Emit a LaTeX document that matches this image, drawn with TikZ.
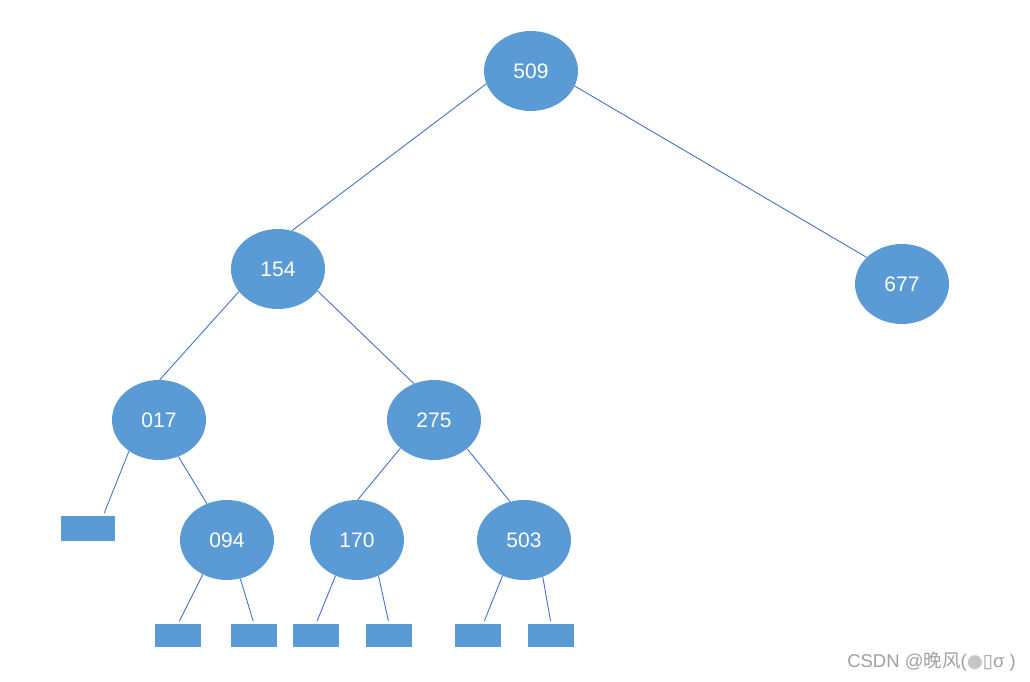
\documentclass[tikz,border=0pt]{standalone}
\usepackage{fontspec}
\setmainfont{Liberation Sans}
\newfontfamily\cjkfont{Noto Sans CJK SC}
\newfontfamily\symfont{DejaVu Sans}
\usetikzlibrary{shapes.geometric}
\definecolor{keyfill}{HTML}{5B9BD5}
\definecolor{edgecolor}{HTML}{4472C4}
\definecolor{markcolor}{HTML}{A0A0A0}

\begin{document}
\begin{tikzpicture}[x=1pt, y=-1pt,
    keynode/.style={ellipse, fill=keyfill, minimum width=94pt, minimum height=80pt, inner sep=0pt, text=white, font=\fontsize{21}{25}\selectfont},
    nullnode/.style={rectangle, fill=keyfill, inner sep=0pt},
    link/.style={draw=edgecolor, line width=0.9pt},
]
\useasboundingbox (0,0) rectangle (1030,682);

% keys
\node[keynode] (n509) at (531, 71) {509};
\node[keynode] (n154) at (278, 269) {154};
\node[keynode] (n677) at (902, 284) {677};
\node[keynode] (n017) at (159, 420) {017};
\node[keynode] (n275) at (434, 420) {275};
\node[keynode] (n094) at (227, 540) {094};
\node[keynode] (n170) at (357, 540) {170};
\node[keynode] (n503) at (524, 540) {503};

% empty leaves
\node[nullnode, minimum width=54pt, minimum height=25pt] (null0) at (88, 528.5) {};
\node[nullnode, minimum width=46pt, minimum height=23pt] (null1) at (178, 635.5) {};
\node[nullnode, minimum width=46pt, minimum height=23pt] (null2) at (254, 635.5) {};
\node[nullnode, minimum width=46pt, minimum height=23pt] (null3) at (316, 635.5) {};
\node[nullnode, minimum width=46pt, minimum height=23pt] (null4) at (389, 635.5) {};
\node[nullnode, minimum width=46pt, minimum height=23pt] (null5) at (478, 635.5) {};
\node[nullnode, minimum width=46pt, minimum height=23pt] (null6) at (551, 635.5) {};

% edges
\draw[link] (n509.196) -- (n154.70);
\draw[link] (n509.341) -- (n677.143);
\draw[link] (n154.210) -- (n017.89);
\draw[link] (n154.331) -- (n275.119);
\draw[link, shorten >=3pt] (n017.226) -- (null0.40);
\draw[link] (n017.298) -- (n094.119);
\draw[link] (n275.220) -- (n170.89);
\draw[link] (n275.319) -- (n503.110);
\draw[link, shorten >=3pt] (n094.235) -- (null1.north);
\draw[link, shorten >=3pt] (n094.289) -- (null2.north);
\draw[link, shorten >=3pt] (n170.239) -- (null3.north);
\draw[link, shorten >=3pt] (n170.301) -- (null4.north);
\draw[link, shorten >=3pt] (n503.239) -- (null5.66);
\draw[link, shorten >=3pt] (n503.297) -- (null6.north);

% watermark
\node[text=markcolor, font=\fontsize{18.5}{22}\selectfont, inner sep=0pt, anchor=east] (mark) at (1016, 662)
  {CSDN @{\cjkfont 晚风}({\symfont\color{markcolor!60}●\color{markcolor}▯}σ )};
\end{tikzpicture}
\end{document}
